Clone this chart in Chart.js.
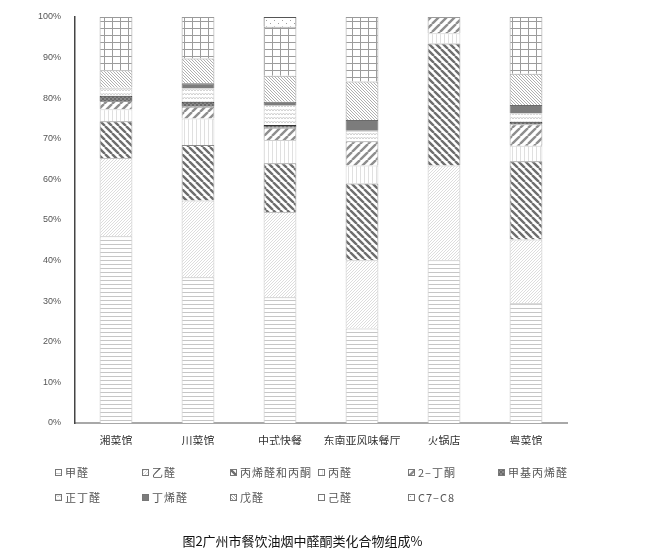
<!DOCTYPE html>
<html>
<head>
<meta charset="utf-8">
<script src="https://cdn.jsdelivr.net/npm/chart.js@4/dist/chart.umd.min.js"></script>
<style>
  body { margin: 0; background: #fff; width: 653px; height: 560px; position: relative; overflow: hidden; }
  #wrap { position: absolute; left: 0; top: 0; width: 653px; height: 445px; }
  #legend { position: absolute; left: 0; top: 0; width: 653px; height: 560px; pointer-events: none; }
  .item { position: absolute; display: flex; align-items: center; font-family: "Noto Sans CJK SC", sans-serif; font-size: 11px; color: #555; letter-spacing: 1px; white-space: nowrap; }
  .item canvas { width: 7px; height: 7px; margin-right: 3px; }
  #title { position: absolute; left: 0; width: 605px; top: 531px; text-align: center; font-family: "Noto Sans CJK SC", sans-serif; font-size: 13px; color: #111; }
</style>
</head>
<body>
<div id="wrap"><canvas id="compChart"></canvas></div>
<div id="legend"></div>
<div id="title">图2广州市餐饮油烟中醛酮类化合物组成%</div>
<script>
const categories = ['湘菜馆', '川菜馆', '中式快餐', '东南亚风味餐厅', '火锅店', '粤菜馆'];
const seriesNames = ['甲醛', '乙醛', '丙烯醛和丙酮', '丙醛', '2–丁酮', '甲基丙烯醛', '正丁醛', '丁烯醛', '戊醛', '己醛', 'C7–C8'];
const formaldehyde = [46.0, 35.9, 31.0, 23.3, 40.1, 29.5];
const acetaldehyde = [19.3, 18.9, 21.0, 16.8, 23.3, 15.7];
const acroleinAcetone = [9.0, 13.7, 12.0, 18.9, 30.1, 19.3];
const propanal = [3.0, 6.5, 5.7, 4.4, 2.5, 3.8];
const butanone = [2.0, 2.9, 3.0, 6.0, 4.0, 5.3];
const methacrolein = [1.3, 1.2, 0.7, 0, 0, 0.6];
const butanal = [2.0, 3.3, 4.9, 2.6, 0, 2.1];
const crotonaldehyde = [0, 1.3, 0.8, 2.6, 0, 2.0];
const pentanal = [4.3, 6.1, 6.4, 9.5, 0, 7.7];
const hexanal = [13.1, 10.2, 12.1, 15.9, 0, 14.0];
const c7c8 = [0, 0, 2.4, 0, 0, 0];
const yTicks = [0, 10, 20, 30, 40, 50, 60, 70, 80, 90, 100];

const seriesValues = [formaldehyde, acetaldehyde, acroleinAcetone, propanal, butanone,
  methacrolein, butanal, crotonaldehyde, pentanal, hexanal, c7c8];

// small tile painters for the hatch fills
function makeTile(w, h, draw) {
  const c = document.createElement('canvas');
  c.width = w;
  c.height = h;
  const g = c.getContext('2d');
  g.fillStyle = '#fff';
  g.fillRect(0, 0, w, h);
  draw(g, w, h);
  return c;
}

function diag(g, w, h, color, lw, forward) {
  g.strokeStyle = color;
  g.lineWidth = lw;
  g.beginPath();
  for (let k = -1; k <= 1; k++) {
    if (forward) {
      g.moveTo(k * w, h);
      g.lineTo(k * w + w, 0);
    } else {
      g.moveTo(k * w, 0);
      g.lineTo(k * w + w, h);
    }
  }
  g.stroke();
}

const tiles = [
  makeTile(4, 4, (g) => { g.fillStyle = '#c6c6c6'; g.fillRect(0, 0, 4, 1); }),
  makeTile(3, 3, (g, w, h) => diag(g, w, h, '#d4d4d4', 0.8, true)),
  makeTile(7, 7, (g, w, h) => diag(g, w, h, '#6e6e6e', 2.4, false)),
  makeTile(4, 4, (g) => { g.fillStyle = '#e0e0e0'; g.fillRect(0, 0, 1, 4); }),
  makeTile(8, 8, (g, w, h) => diag(g, w, h, '#8e8e8e', 2.4, true)),
  makeTile(4, 4, (g) => { g.fillStyle = '#8a8a8a'; g.fillRect(0, 0, 4, 4); g.fillStyle = '#6a6a6a'; g.fillRect(0, 0, 2, 2); g.fillRect(2, 2, 2, 2); }),
  makeTile(6, 4, (g) => {
    g.strokeStyle = '#d0d0d0';
    g.lineWidth = 1;
    g.beginPath();
    g.moveTo(0, 3); g.lineTo(1.5, 1); g.lineTo(3, 3); g.lineTo(4.5, 1); g.lineTo(6, 3);
    g.stroke();
  }),
  makeTile(2, 2, (g) => { g.fillStyle = '#7c7c7c'; g.fillRect(0, 0, 2, 2); }),
  makeTile(3, 3, (g, w, h) => diag(g, w, h, '#a6a6a6', 0.9, false)),
  makeTile(8, 7, (g) => { g.fillStyle = '#9c9c9c'; g.fillRect(0, 0, 8, 1); g.fillRect(0, 0, 1, 7); }),
  makeTile(8, 6, (g) => { g.fillStyle = '#a0a0a0'; g.fillRect(2, 2, 1, 1); g.fillRect(6, 5, 1, 1); }),
];

const borderColors = ['#bdbdbd', '#c4c4c4', '#8a8a8a', '#d0d0d0', '#9a9a9a', '#333333',
  '#c4c4c4', '#6a6a6a', '#a0a0a0', '#9a9a9a', '#555555'];

const ctx = document.getElementById('compChart').getContext('2d');
const patterns = tiles.map((t) => ctx.createPattern(t, 'repeat'));

const datasets = seriesNames.map((name, i) => ({
  label: name,
  data: seriesValues[i],
  backgroundColor: patterns[i],
  borderColor: borderColors[i],
  borderWidth: 1,
  barPercentage: 0.8,
  categoryPercentage: 0.5,
}));

new Chart(ctx, {
  type: 'bar',
  data: { labels: categories, datasets },
  options: {
    responsive: true,
    maintainAspectRatio: false,
    animation: false,
    layout: { padding: { top: 17, right: 86, left: 0, bottom: 0 } },
    plugins: {
      legend: { display: false },
      tooltip: { enabled: false },
    },
    scales: {
      x: {
        stacked: true,
        grid: { display: false },
        border: { display: true, color: '#a8a8a8', width: 2 },
        ticks: {
          color: '#333',
          padding: 3,
          autoSkip: false,
          maxRotation: 0,
          minRotation: 0,
          font: { family: '"Noto Sans CJK SC", sans-serif', size: 11 },
        },
        afterFit: (scale) => { scale.height = 22; },
      },
      y: {
        stacked: true,
        min: 0,
        max: 100,
        afterBuildTicks: (scale) => { scale.ticks = yTicks.map((v) => ({ value: v })); },
        grid: { display: false },
        border: { display: true, color: '#444', width: 1.5 },
        ticks: {
          color: '#555',
          padding: 6,
          font: { family: '"Liberation Sans", Arial, sans-serif', size: 9 },
          callback: (value) => `${value}%`,
        },
        afterFit: (scale) => { scale.width = 75; },
      },
    },
  },
});

// legend laid out on a fixed grid like the original figure
const legendEl = document.getElementById('legend');
const colX = [55, 142, 230, 318, 408, 498];
const rowY = [464, 489];
seriesNames.forEach((name, i) => {
  const row = i < 6 ? 0 : 1;
  const col = i < 6 ? i : i - 6;
  const item = document.createElement('div');
  item.className = 'item';
  item.style.left = `${colX[col]}px`;
  item.style.top = `${rowY[row]}px`;
  const sw = document.createElement('canvas');
  sw.width = 7;
  sw.height = 7;
  const sg = sw.getContext('2d');
  sg.fillStyle = sg.createPattern(tiles[i], 'repeat');
  sg.fillRect(0, 0, 7, 7);
  sg.strokeStyle = '#777';
  sg.lineWidth = 1;
  sg.strokeRect(0.5, 0.5, 6, 6);
  item.appendChild(sw);
  const span = document.createElement('span');
  span.textContent = name;
  item.appendChild(span);
  legendEl.appendChild(item);
});
</script>
</body>
</html>
